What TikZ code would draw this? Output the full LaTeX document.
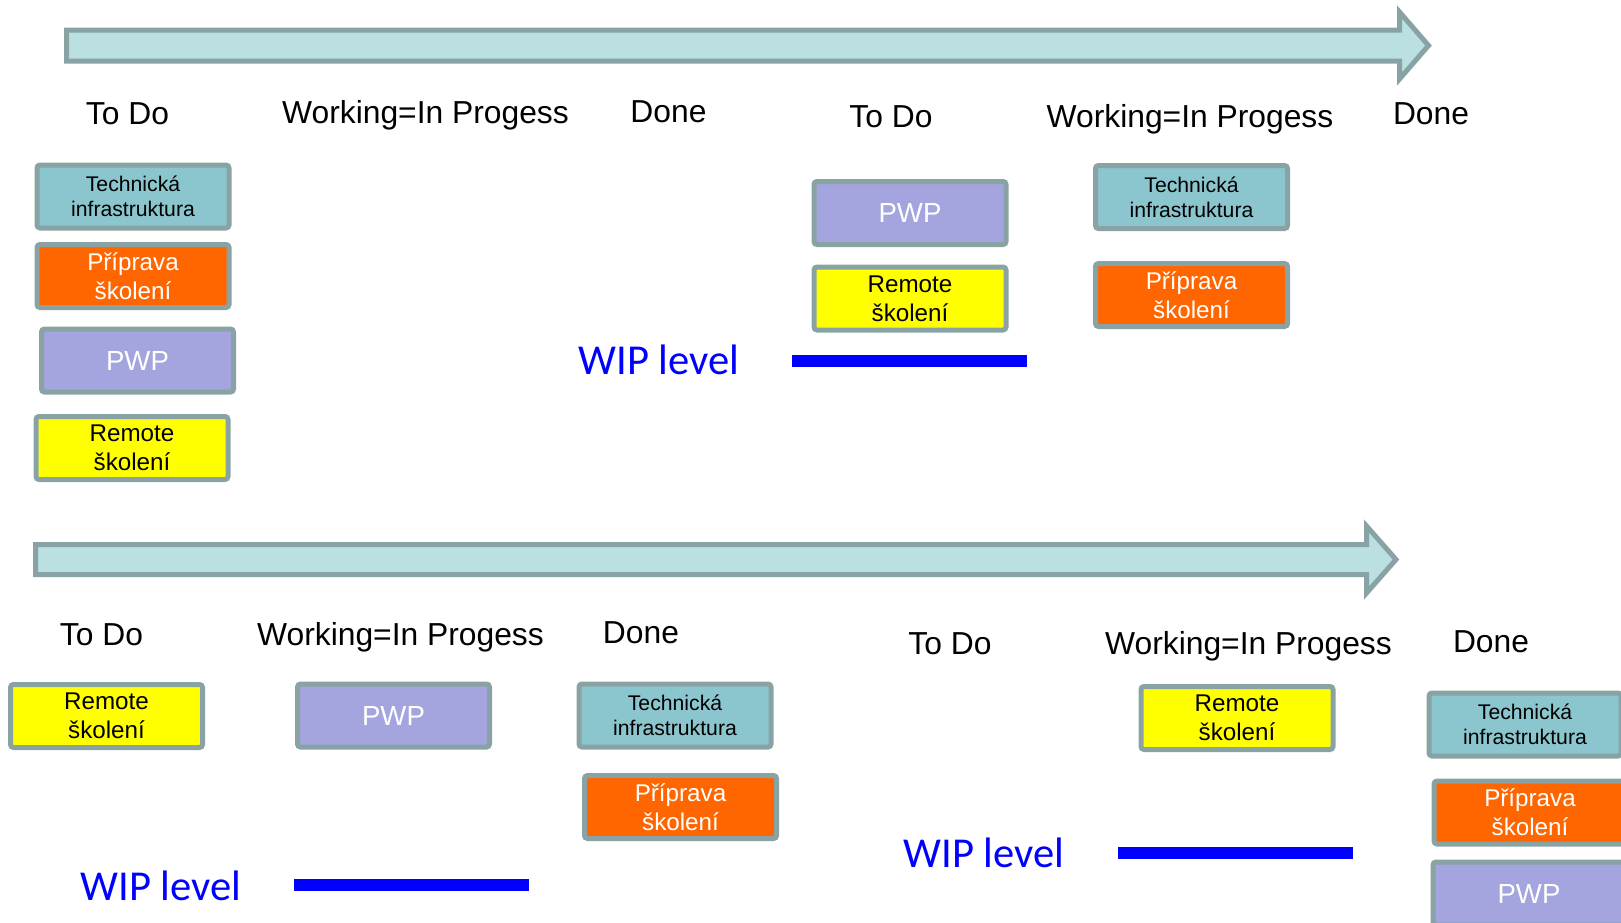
\documentclass[tikz,border=0pt]{standalone}
\usepackage{fontspec}
\setmainfont{Liberation Sans}
\newfontfamily\wipfont{Carlito}
\definecolor{cardline}{RGB}{137,163,165}
\definecolor{techfill}{RGB}{139,198,206}
\definecolor{pripfill}{RGB}{255,102,0}
\definecolor{pwpfill}{RGB}{164,164,222}
\definecolor{remfill}{RGB}{255,255,0}
\definecolor{wipblue}{RGB}{0,0,255}
\definecolor{flowfill}{RGB}{186,224,226}

\begin{document}
\begin{tikzpicture}[
    x=0.5pt, y=-0.5pt,
    card/.style={draw=cardline, line width=2.5pt, rounded corners=1.5pt,
                 minimum width=96pt, minimum height=31.5pt,
                 inner sep=0pt, align=center},
    tech/.style={card, fill=techfill, font={\fontsize{10.6}{12.5}\selectfont}},
    prip/.style={card, fill=pripfill, text=white, font={\fontsize{12.1}{14.5}\selectfont}},
    pwp/.style={card, fill=pwpfill, text=white, font={\fontsize{13.8}{16}\selectfont}},
    remote/.style={card, fill=remfill, font={\fontsize{12.1}{14.5}\selectfont}},
    colhead/.style={anchor=base, font={\fontsize{15.9}{18}\selectfont}},
    wip/.style={anchor=base, text=wipblue, font={\wipfont\fontsize{21.3}{24}\selectfont}},
    wipbar/.style={draw=wipblue, line width=6pt},
    flow/.style={draw=cardline, fill=flowfill, line width=2.5pt, line join=miter}
  ]
  \useasboundingbox (0,0) rectangle (1621,922);
  \clip (0,0) rectangle (1621,922);

  % flow arrows
  \draw[flow] (66.5,30) -- (1399.5,30) -- (1399.5,12) -- (1428.5,45.5)
    -- (1399.5,79) -- (1399.5,61) -- (66.5,61) -- cycle;
  \draw[flow] (35.5,544.5) -- (1366.5,544.5) -- (1366.5,526) -- (1396,559.5)
    -- (1366.5,593) -- (1366.5,574.5) -- (35.5,574.5) -- cycle;

  % Column heads, top board
  \node[colhead] (todo1) at (127.5,124) {To Do};
  \node[colhead] (work1) at (425.5,123) {Working=In Progess};
  \node[colhead] (done1) at (668.5,122) {Done};
  \node[colhead] (todo2) at (891,127) {To Do};
  \node[colhead] (work2) at (1190,127) {Working=In Progess};
  \node[colhead] (done2) at (1431,124) {Done};

  % Column heads, bottom board
  \node[colhead] (todo3) at (101.5,645) {To Do};
  \node[colhead] (work3) at (400.5,645) {Working=In Progess};
  \node[colhead] (done3) at (641,643) {Done};
  \node[colhead] (todo4) at (950,654) {To Do};
  \node[colhead] (work4) at (1248.5,654) {Working=In Progess};
  \node[colhead] (done4) at (1491,652) {Done};

  % Board 1: all in To Do
  \node[tech]   (tech1) at (133,196.5) {Technická\\infrastruktura};
  \node[prip]   (prip1) at (133,276)   {Příprava\\školení};
  \node[pwp]    (pwp1)  at (137.5,360.5) {PWP};
  \node[remote] (rem1)  at (132,448)   {Remote\\školení};

  % Board 2
  \node[pwp]    (pwp2)  at (910,213)    {PWP};
  \node[remote] (rem2)  at (910,298.5)  {Remote\\školení};
  \node[tech]   (tech2) at (1191.5,197) {Technická\\infrastruktura};
  \node[prip]   (prip2) at (1191.5,295) {Příprava\\školení};
  \node[wip] (wip2) at (659,374) {WIP level};
  \draw[wipbar] (792,361) -- (1027,361);

  % Board 3
  \node[remote] (rem3)  at (106.5,716)   {Remote\\školení};
  \node[pwp]    (pwp3)  at (393.5,715.5) {PWP};
  \node[tech]   (tech3) at (675,715.5)   {Technická\\infrastruktura};
  \node[prip]   (prip3) at (680.5,807)   {Příprava\\školení};
  \node[wip] (wip3) at (161,900) {WIP level};
  \draw[wipbar] (294,885) -- (529,885);

  % Board 4
  \node[remote] (rem4)  at (1237,718)    {Remote\\školení};
  \node[tech]   (tech4) at (1525,724.5)  {Technická\\infrastruktura};
  \node[prip]   (prip4) at (1530,812.5)  {Příprava\\školení};
  \node[pwp]    (pwp4)  at (1529,893.5)  {PWP};
  \node[wip] (wip4) at (984,867) {WIP level};
  \draw[wipbar] (1118,853) -- (1353,853);
\end{tikzpicture}
\end{document}
